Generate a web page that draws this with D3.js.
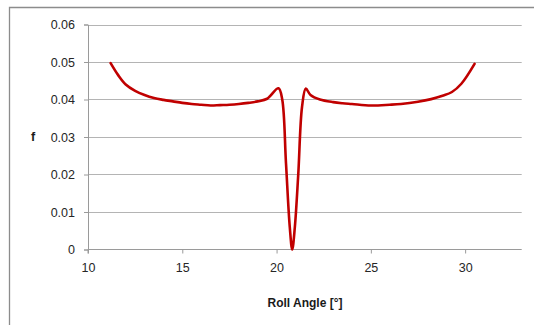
<!DOCTYPE html>
<html><head><meta charset="utf-8">
<script src="https://cdn.jsdelivr.net/npm/d3@7"></script>
<style>body{margin:0;background:#fff}svg{display:block}</style>
</head><body>
<svg id="c" width="534" height="325"></svg>
<script>
const rollAngle = [11.2,11.6,12.0,12.5,13.0,13.5,14.0,14.5,15.0,15.5,16.0,16.5,17.0,17.5,18.0,18.5,19.0,19.5,20.1,20.3,20.5,20.7,20.83,20.97,21.15,21.35,21.55,21.8,22.3,23.0,23.5,24.0,25.0,26.0,26.6,27.5,28.2,28.8,29.3,29.8,30.5];
const fValues  = [0.0497,0.0465,0.0440,0.0423,0.0412,0.0404,0.0399,0.0395,0.0391,0.0388,0.0386,0.0384,0.0385,0.0386,0.0388,0.0391,0.0395,0.0402,0.0430,0.0400,0.0230,0.0060,0.0000,0.0060,0.0200,0.0380,0.0429,0.0412,0.0400,0.0393,0.0390,0.0388,0.0384,0.0386,0.0388,0.0394,0.0401,0.0410,0.0420,0.0442,0.0495];
const xTicks = [10,15,20,25,30];
const yTicks = [0,0.01,0.02,0.03,0.04,0.05,0.06];
const yTickLabels = ["0","0.01","0.02","0.03","0.04","0.05","0.06"];
const xTitle = "Roll Angle [°]";
const yTitle = "f";

const svg = d3.select("#c");
const x = d3.scaleLinear().domain([10,33]).range([88,521.7]);
const y = d3.scaleLinear().domain([0,0.06]).range([249.5,24.5]);
const font = "'Liberation Sans', Arial, sans-serif";

// outer frame
svg.append("path").attr("d","M9.5,325 L9.5,7.5 L534,7.5").attr("fill","none").attr("stroke","#8c8c8c").attr("stroke-width",1.3);

// gridlines
svg.append("g").selectAll("line").data(yTicks.slice(1)).join("line")
  .attr("x1",x(10)).attr("x2",x(33))
  .attr("y1",d=>Math.round(y(d))+0.5).attr("y2",d=>Math.round(y(d))+0.5)
  .attr("stroke","#b4b4b4").attr("stroke-width",1);

// axes
const yAxis = d3.axisLeft(y).tickValues(yTicks).tickFormat((d,i)=>yTickLabels[i]).tickSize(4).tickPadding(9);
const gy = svg.append("g").attr("transform",`translate(${x(10)},0)`).call(yAxis);
const xAxis = d3.axisBottom(x).tickValues(xTicks).tickSize(4).tickPadding(10);
const gx = svg.append("g").attr("transform",`translate(0,${y(0)})`).call(xAxis);
[gx,gy].forEach(g=>{
  g.select(".domain").attr("stroke","#9a9a9a");
  g.selectAll(".tick line").attr("stroke","#9a9a9a");
  g.selectAll("text").attr("font-family",font).attr("font-size",12.5).attr("fill","#262626");
});
gx.select(".domain").attr("d",`M${x(10)},4V0H${x(33)}`);

// curve
const line = d3.line().x((d,i)=>x(rollAngle[i])).y(d=>y(d)).curve(d3.curveCatmullRom.alpha(0.5));
svg.append("path").datum(fValues).attr("d",line)
  .attr("fill","none").attr("stroke","#c00000").attr("stroke-width",2.6).attr("stroke-linejoin","round").attr("stroke-linecap","round");

// titles
svg.append("text").attr("x",305).attr("y",307).attr("text-anchor","middle")
  .attr("font-family",font).attr("font-size",12).attr("font-weight","bold").attr("fill","#1a1a1a").text(xTitle);
svg.append("text").attr("x",33).attr("y",141).attr("text-anchor","middle")
  .attr("font-family",font).attr("font-size",12.5).attr("font-weight","bold").attr("fill","#1a1a1a").text(yTitle);
</script>
</body></html>
